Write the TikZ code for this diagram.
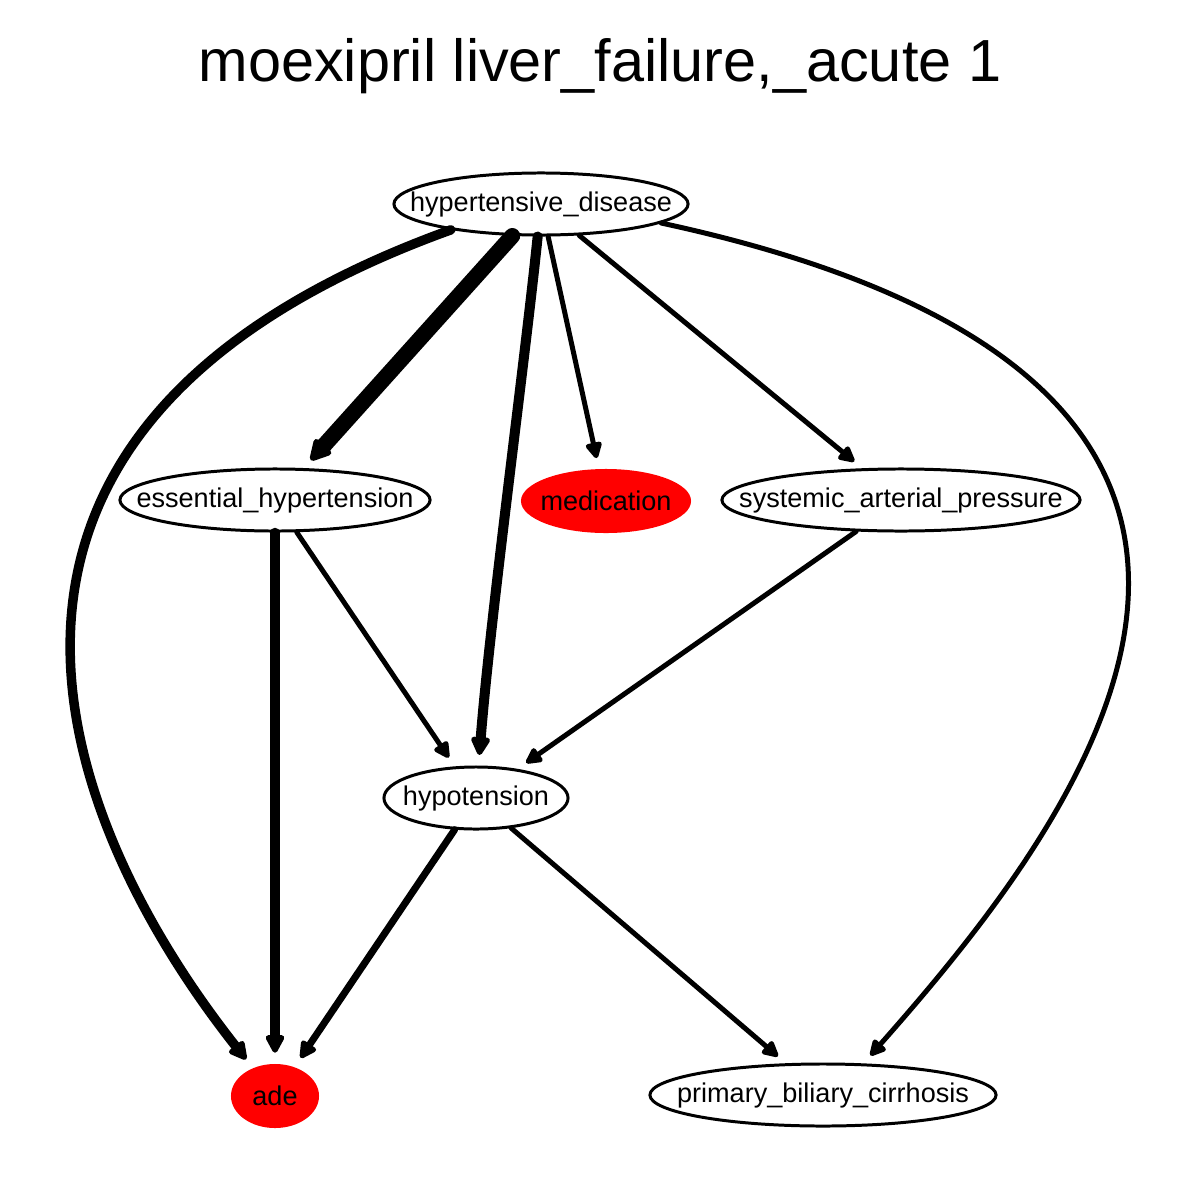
\documentclass[tikz,border=0pt]{standalone}
\usepackage{fontspec}
\setmainfont{Liberation Sans}
\usetikzlibrary{arrows.meta,shapes.geometric}
\begin{document}
\begin{tikzpicture}[x=0.01cm,y=-0.01cm,
  nd/.style={ellipse, draw, line width=0.85pt, inner sep=0pt, minimum height=0.62cm,
    font=\fontsize{7.7}{9}\selectfont},
  rednd/.style={ellipse, draw=none, fill=red, inner sep=0pt, minimum height=0.64cm,
    font=\fontsize{7.7}{9}\selectfont},
  edge/.style={line cap=round, line join=round,
    -{Triangle[length=4.6pt 0.5, width=4.2pt 0.6, round]}, shorten >=3pt},
  thin/.style={edge, line width=1.42pt},
  mid/.style={edge, line width=2pt},
  thick/.style={edge, line width=2.7pt},
  thicker/.style={edge, line width=2.85pt},
  thickest/.style={edge, line width=4.5pt}
]
\useasboundingbox (0,0) rectangle (1200,1200);
\node (title) at (600,66) {\fontsize{16.9}{20}\selectfont moexipril liver\_failure,\_acute 1};

\node[nd, minimum width=2.94cm] (hd) at (541,204) {\makebox[0pt]{hypertensive\_disease}};
\node[nd, minimum width=3.10cm] (eh) at (275,500) {\makebox[0pt]{essential\_hypertension}};
\node[rednd, minimum width=1.70cm] (med) at (606,501) {\makebox[0pt]{medication}};
\node[nd, minimum width=3.58cm] (sap) at (901,500) {\makebox[0pt]{systemic\_arterial\_pressure}};
\node[nd, minimum width=1.84cm] (hypo) at (476,798) {\makebox[0pt]{hypotension}};
\node[rednd, minimum width=0.88cm] (ade) at (275,1096) {\makebox[0pt]{ade}};
\node[nd, minimum width=3.46cm] (pbc) at (823,1095) {\makebox[0pt]{primary\_biliary\_cirrhosis}};

\draw[thick] (hd.196) .. controls (-99.6,428.5) and (58.8,822.2) .. (ade);
\draw[thickest] (hd) -- (eh);
\draw[thicker] (hd) .. controls (525,360) and (490,620) .. (hypo);
\draw[thin] (hd) -- (med);
\draw[thin] (hd) -- (sap);
\draw[thin] (hd.-9) .. controls (1427.5,388.4) and (1062.6,837.9) .. (pbc.38);
\draw[thick] (eh) -- (ade);
\draw[thin] (eh) -- (hypo);
\draw[thin] (sap) -- (hypo);
\draw[mid] (hypo) -- (ade);
\draw[thin] (hypo) -- (pbc);
\end{tikzpicture}
\end{document}
